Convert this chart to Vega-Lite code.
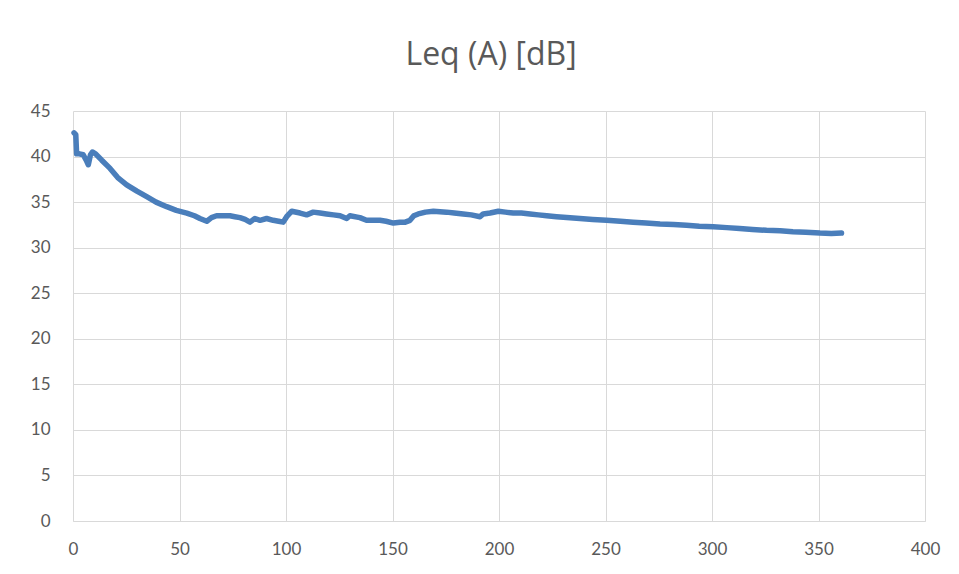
{
  "$schema": "https://vega.github.io/schema/vega-lite/v6.json",
  "autosize": {"type": "none"},
  "width": 852,
  "height": 410,
  "padding": {"left": 73, "top": 111, "right": 34, "bottom": 53},
  "background": "white",
  "title": {
    "text": "Leq (A) [dB]",
    "font": "Open Sans",
    "fontSize": 32,
    "fontWeight": "normal",
    "color": "#595959",
    "anchor": "middle",
    "dx": -8,
    "offset": 30
  },
  "data": {
    "values": [
      {"t": 0.5, "leq": 42.6},
      {"t": 1.3, "leq": 42.4},
      {"t": 1.7, "leq": 40.3},
      {"t": 3.0, "leq": 40.3},
      {"t": 4.8, "leq": 40.2},
      {"t": 6.2, "leq": 39.6},
      {"t": 7.2, "leq": 39.1},
      {"t": 8.2, "leq": 40.2},
      {"t": 9.1, "leq": 40.5},
      {"t": 10.6, "leq": 40.3},
      {"t": 13.5, "leq": 39.6},
      {"t": 17.4, "leq": 38.7},
      {"t": 21.0, "leq": 37.7},
      {"t": 25.2, "leq": 36.9},
      {"t": 30.0, "leq": 36.2},
      {"t": 34.6, "leq": 35.6},
      {"t": 39.0, "leq": 35.0},
      {"t": 44.0, "leq": 34.5},
      {"t": 48.5, "leq": 34.1},
      {"t": 53.4, "leq": 33.8},
      {"t": 57.0, "leq": 33.5},
      {"t": 59.6, "leq": 33.2},
      {"t": 62.8, "leq": 32.9},
      {"t": 65.0, "leq": 33.3},
      {"t": 67.4, "leq": 33.5},
      {"t": 70.5, "leq": 33.5},
      {"t": 73.7, "leq": 33.5},
      {"t": 76.0, "leq": 33.4},
      {"t": 78.4, "leq": 33.3},
      {"t": 80.8, "leq": 33.1},
      {"t": 83.1, "leq": 32.8},
      {"t": 85.4, "leq": 33.2},
      {"t": 87.8, "leq": 33.0},
      {"t": 90.9, "leq": 33.2},
      {"t": 94.0, "leq": 33.0},
      {"t": 96.5, "leq": 32.9},
      {"t": 98.7, "leq": 32.8},
      {"t": 100.3, "leq": 33.4},
      {"t": 102.7, "leq": 34.0},
      {"t": 106.6, "leq": 33.8},
      {"t": 109.7, "leq": 33.6},
      {"t": 112.8, "leq": 33.9},
      {"t": 116.0, "leq": 33.8},
      {"t": 119.0, "leq": 33.7},
      {"t": 122.3, "leq": 33.6},
      {"t": 125.4, "leq": 33.5},
      {"t": 128.5, "leq": 33.2},
      {"t": 130.0, "leq": 33.5},
      {"t": 134.7, "leq": 33.3},
      {"t": 137.8, "leq": 33.0},
      {"t": 144.1, "leq": 33.0},
      {"t": 147.0, "leq": 32.9},
      {"t": 150.4, "leq": 32.7},
      {"t": 153.5, "leq": 32.8},
      {"t": 156.0, "leq": 32.8},
      {"t": 158.2, "leq": 33.0},
      {"t": 160.0, "leq": 33.5},
      {"t": 162.1, "leq": 33.7},
      {"t": 165.5, "leq": 33.9},
      {"t": 169.2, "leq": 34.0},
      {"t": 175.4, "leq": 33.9},
      {"t": 179.0, "leq": 33.8},
      {"t": 183.2, "leq": 33.7},
      {"t": 187.0, "leq": 33.6},
      {"t": 191.1, "leq": 33.4},
      {"t": 192.6, "leq": 33.7},
      {"t": 195.8, "leq": 33.8},
      {"t": 199.7, "leq": 34.0},
      {"t": 203.0, "leq": 33.9},
      {"t": 206.7, "leq": 33.8},
      {"t": 210.5, "leq": 33.8},
      {"t": 214.6, "leq": 33.7},
      {"t": 218.5, "leq": 33.6},
      {"t": 222.4, "leq": 33.5},
      {"t": 227.0, "leq": 33.4},
      {"t": 231.8, "leq": 33.3},
      {"t": 238.0, "leq": 33.2},
      {"t": 244.0, "leq": 33.1},
      {"t": 250.5, "leq": 33.0},
      {"t": 257.0, "leq": 32.9},
      {"t": 263.0, "leq": 32.8},
      {"t": 269.0, "leq": 32.7},
      {"t": 275.6, "leq": 32.6},
      {"t": 282.0, "leq": 32.55},
      {"t": 288.0, "leq": 32.45},
      {"t": 294.0, "leq": 32.35},
      {"t": 300.6, "leq": 32.3},
      {"t": 307.0, "leq": 32.2},
      {"t": 313.0, "leq": 32.1},
      {"t": 319.0, "leq": 32.0},
      {"t": 325.6, "leq": 31.9},
      {"t": 332.0, "leq": 31.85},
      {"t": 338.0, "leq": 31.75},
      {"t": 344.0, "leq": 31.7},
      {"t": 350.7, "leq": 31.6},
      {"t": 356.0, "leq": 31.55},
      {"t": 360.8, "leq": 31.6}
    ]
  },
  "mark": {"type": "line", "color": "#4a7ebb", "strokeWidth": 5.5, "strokeCap": "round", "strokeJoin": "round"},
  "encoding": {
    "x": {
      "field": "t",
      "type": "quantitative",
      "scale": {"domain": [0, 400], "nice": false, "zero": true},
      "axis": {
        "title": null,
        "values": [0, 50, 100, 150, 200, 250, 300, 350, 400],
        "grid": true,
        "gridColor": "#d9d9d9",
        "gridWidth": 1,
        "domain": true,
        "domainColor": "#d9d9d9",
        "domainWidth": 1,
        "ticks": false,
        "labelPadding": 20,
        "labelFont": "Lato",
        "labelFontSize": 17,
        "labelColor": "#595959",
        "labelFlush": false
      }
    },
    "y": {
      "field": "leq",
      "type": "quantitative",
      "scale": {"domain": [0, 45], "nice": false, "zero": true},
      "axis": {
        "title": null,
        "values": [0, 5, 10, 15, 20, 25, 30, 35, 40, 45],
        "grid": true,
        "gridColor": "#d9d9d9",
        "gridWidth": 1,
        "domain": false,
        "ticks": false,
        "labelPadding": 23,
        "labelFont": "Lato",
        "labelFontSize": 17,
        "labelColor": "#595959"
      }
    }
  },
  "config": {"view": {"stroke": null}}
}
